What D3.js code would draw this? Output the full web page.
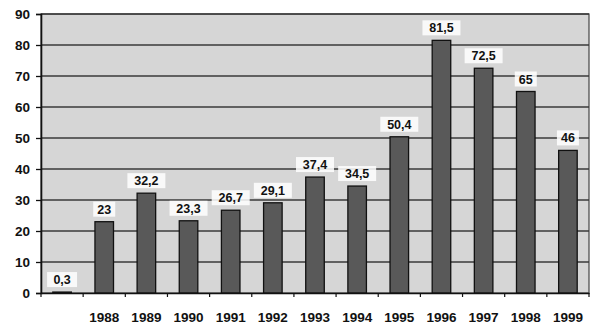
<!DOCTYPE html>
<html>
<head>
<meta charset="utf-8">
<script src="https://cdn.jsdelivr.net/npm/d3@7"></script>
<style>
  body { margin: 0; background: #fff; }
  svg text { font-family: "Liberation Sans", Arial, sans-serif; font-weight: bold; fill: #111; }
</style>
</head>
<body>
<svg id="chart" width="600" height="336"></svg>
<script>
// chart data
var years = ["", "1988", "1989", "1990", "1991", "1992", "1993", "1994", "1995", "1996", "1997", "1998", "1999"];
var values = [0.3, 23, 32.2, 23.3, 26.7, 29.1, 37.4, 34.5, 50.4, 81.5, 72.5, 65, 46];
var valueLabels = ["0,3", "23", "32,2", "23,3", "26,7", "29,1", "37,4", "34,5", "50,4", "81,5", "72,5", "65", "46"];
var yTicks = [0, 10, 20, 30, 40, 50, 60, 70, 80, 90];

var margin = {left: 41, right: 11, top: 14, bottom: 43};
var width = 600, height = 336;

var svg = d3.select("#chart");

var x = d3.scaleBand()
    .domain(d3.range(years.length))
    .range([margin.left, width - margin.right])
    .paddingInner(0.56)
    .paddingOuter(0.28);

var y = d3.scaleLinear()
    .domain([0, 90])
    .range([height - margin.bottom, margin.top]);

// plot background
svg.append("rect")
    .attr("x", margin.left)
    .attr("y", margin.top)
    .attr("width", width - margin.left - margin.right)
    .attr("height", height - margin.top - margin.bottom)
    .attr("fill", "#d6d6d6")
    .attr("stroke", "#444")
    .attr("stroke-width", 1.2);

// gridlines
svg.append("g")
  .selectAll("line")
  .data(yTicks.filter(function(d) { return d > 0; }))
  .enter().append("line")
    .attr("x1", margin.left)
    .attr("x2", width - margin.right)
    .attr("y1", function(d) { return y(d); })
    .attr("y2", function(d) { return y(d); })
    .attr("stroke", "#3a3a3a")
    .attr("stroke-width", 1.5);

// bars
svg.append("g")
  .selectAll("rect")
  .data(values)
  .enter().append("rect")
    .attr("x", function(d, i) { return x(i); })
    .attr("y", function(d) { return y(d); })
    .attr("width", x.bandwidth())
    .attr("height", function(d) { return y(0) - y(d); })
    .attr("fill", "#595959")
    .attr("stroke", "#111")
    .attr("stroke-width", 1.3);

// value labels with white boxes
var labels = svg.append("g")
  .selectAll("g")
  .data(values)
  .enter().append("g")
    .attr("transform", function(d, i) {
      return "translate(" + (x(i) + x.bandwidth() / 2) + "," + (y(d) - 8) + ")";
    });

labels.append("rect")
    .attr("x", function(d, i) { return -valueLabels[i].length * 4 - 3; })
    .attr("y", -12)
    .attr("width", function(d, i) { return valueLabels[i].length * 8 + 6; })
    .attr("height", 15)
    .attr("fill", "#fff")
    .attr("fill-opacity", 0.85);

labels.append("text")
    .attr("text-anchor", "middle")
    .attr("font-size", "12.5px")
    .text(function(d, i) { return valueLabels[i]; });

// y axis
var yAxis = svg.append("g")
    .attr("transform", "translate(" + margin.left + ",0)")
    .call(d3.axisLeft(y).tickValues(yTicks).tickSize(5).tickPadding(6));
yAxis.select(".domain").attr("stroke", "#111").attr("stroke-width", 1.6);
yAxis.selectAll(".tick line").attr("stroke", "#111").attr("stroke-width", 1.3);
yAxis.selectAll("text")
    .attr("font-size", "13.5px")
    .attr("font-family", "'Liberation Sans', Arial, sans-serif")
    .attr("fill", "#111");

// x axis
var xAxis = svg.append("g")
    .attr("transform", "translate(0," + y(0) + ")")
    .call(d3.axisBottom(x).tickFormat(function(i) { return years[i]; }).tickSize(0).tickPadding(19));
xAxis.select(".domain").attr("stroke", "#111").attr("stroke-width", 1.6);
xAxis.selectAll("text")
    .attr("font-size", "13.5px")
    .attr("font-family", "'Liberation Sans', Arial, sans-serif")
    .attr("fill", "#111");

// tick marks between categories
var step = x.step();
svg.append("g")
  .selectAll("line")
  .data(d3.range(years.length + 1))
  .enter().append("line")
    .attr("x1", function(i) { return margin.left + i * (width - margin.left - margin.right) / years.length; })
    .attr("x2", function(i) { return margin.left + i * (width - margin.left - margin.right) / years.length; })
    .attr("y1", y(0))
    .attr("y2", y(0) + 4)
    .attr("stroke", "#111")
    .attr("stroke-width", 1.2);
</script>
</body>
</html>
